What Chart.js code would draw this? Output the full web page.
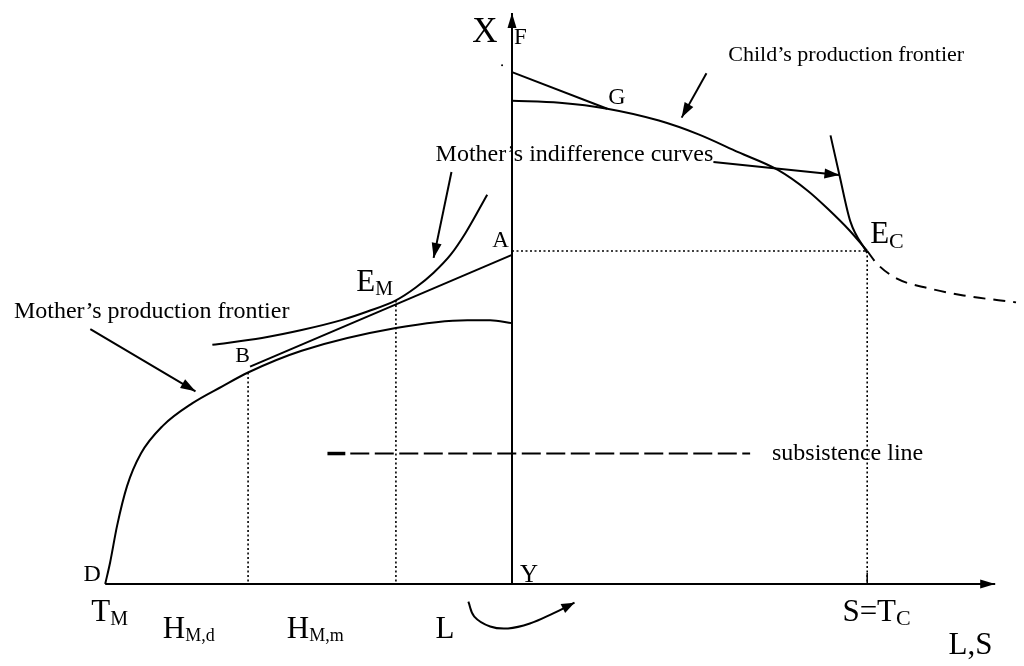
<!DOCTYPE html>
<html>
<head>
<meta charset="utf-8">
<script src="https://cdn.jsdelivr.net/npm/chart.js@4"></script>
<style>
  body { margin: 0; background: #fff; }
  #wrap { width: 1024px; height: 666px; }
</style>
</head>
<body>
<div id="wrap"><canvas id="myChart"></canvas></div>
<script>
// Curves of the diagram, in picture units (x right, y down)

const yAxis = [ {x: 512, y: 587}, {x: 512, y: 9} ];
const xAxis = [ {x: 102, y: 587}, {x: 999, y: 587} ];

const motherFrontier = [
    {x: 102, y: 587}, {x: 107, y: 565}, {x: 114, y: 528}, {x: 124, y: 488},
    {x: 138, y: 455}, {x: 160, y: 427}, {x: 190, y: 404}, {x: 220, y: 387},
    {x: 246, y: 373}, {x: 300, y: 351}, {x: 395, y: 328}, {x: 467, y: 320},
    {x: 490, y: 320}, {x: 512, y: 323},
];

const motherIndiff = [
    {x: 210, y: 345}, {x: 260, y: 338}, {x: 300, y: 330}, {x: 340, y: 320},
    {x: 367, y: 311}, {x: 395, y: 300}, {x: 415, y: 287}, {x: 433, y: 272},
    {x: 450, y: 254}, {x: 465, y: 232}, {x: 487, y: 193},
];

const budgetLine = [ {x: 248, y: 367}, {x: 512, y: 254} ];

const childFrontier = [
    {x: 512, y: 98}, {x: 560, y: 100}, {x: 608, y: 106}, {x: 660, y: 118},
    {x: 700, y: 132}, {x: 740, y: 150}, {x: 780, y: 168}, {x: 810, y: 189},
    {x: 830, y: 207}, {x: 852, y: 229}, {x: 870, y: 250},
];
const childFrontierDashed = [
    {x: 870, y: 250}, {x: 880, y: 263}, {x: 900, y: 278}, {x: 933, y: 288},
    {x: 967, y: 295}, {x: 1020, y: 302},
];
const childIndiff = [ {x: 833, y: 133}, {x: 842, y: 173}, {x: 853, y: 220}, {x: 870, y: 252} ];
const fLine = [ {x: 512, y: 69}, {x: 608, y: 106} ];

const dotA = [ {x: 512, y: 250}, {x: 870, y: 250} ];
const dotEc = [ {x: 870, y: 250}, {x: 870, y: 587} ];
const dotEm = [ {x: 395, y: 300}, {x: 395, y: 587} ];
const dotB = [ {x: 246, y: 373}, {x: 246, y: 587} ];
const tickS = [ {x: 870, y: 576}, {x: 870, y: 587} ];

const subsistStub = [ {x: 326, y: 455}, {x: 344, y: 455} ];
const subsistence = [ {x: 349, y: 455}, {x: 752, y: 455} ];
const strayDot = [ {x: 502, y: 62} ];

const arrowMotherPF = [ {x: 87, y: 329}, {x: 193, y: 392} ];
const arrowMotherIC1 = [ {x: 451, y: 170}, {x: 433, y: 257} ];
const arrowMotherIC2 = [ {x: 715, y: 160}, {x: 842, y: 173} ];
const arrowChildPF = [ {x: 708, y: 70}, {x: 683, y: 115} ];
const arrowL = [ {x: 468, y: 605}, {x: 474, y: 620}, {x: 490, y: 630}, {x: 508, y: 632},
                 {x: 530, y: 627}, {x: 553, y: 617}, {x: 575, y: 606} ];

// text: label, subscript, left x, middle y
const labels = [
    ['X', '', 472, 29], ['F', '', 514, 34], ['G', '', 609, 95],
    ['Child\u2019s production frontier', '', 730, 52],
    ['Mother\u2019s indifference curves', '', 435, 153],
    ['A', '', 492, 240], ['E', 'C', 873, 234], ['E', 'M', 355, 282],
    ['Mother\u2019s production frontier', '', 10, 311], ['B', '', 233, 357],
    ['subsistence line', '', 774, 455], ['D', '', 80, 578], ['Y', '', 520, 578],
    ['T', 'M', 88, 616], ['H', 'M,d', 160, 633], ['H', 'M,m', 285, 633],
    ['L', '', 435, 633], ['S=T', 'C', 845, 616], ['L,S', '', 952, 650],
];
const labelSize = {X: 35, F: 23, G: 24, A: 23, B: 22, D: 24, Y: 25, E: 31, T: 31, H: 31, L: 31,
                   'S=T': 31, 'L,S': 31, 'Child\u2019s production frontier': 22};
const subSize = {C: 22, M: 20, 'M,d': 18, 'M,m': 18};

function line(data, extra) {
    return Object.assign({
        data: data, showLine: true, borderColor: '#000', borderWidth: 2,
        pointRadius: 0, tension: 0, fill: false,
    }, extra || {});
}

const smooth = {cubicInterpolationMode: 'monotone'};
const dotted = {borderWidth: 1.6, borderDash: [2, 2.5]};

const arrowPlugin = {
    id: 'arrows',
    afterDatasetsDraw(chart) {
        const ctx = chart.ctx;
        const sx = chart.scales.x, sy = chart.scales.y;
        chart.data.datasets.forEach(ds => {
            if (!ds.arrow) return;
            const n = ds.data.length;
            const p1 = ds.data[n - 2], p2 = ds.data[n - 1];
            const x1 = sx.getPixelForValue(p1.x), y1 = sy.getPixelForValue(p1.y);
            const x2 = sx.getPixelForValue(p2.x), y2 = sy.getPixelForValue(p2.y);
            const a = Math.atan2(y2 - y1, x2 - x1);
            const len = ds.arrow[0], w = ds.arrow[1];
            ctx.save();
            ctx.fillStyle = '#000';
            ctx.beginPath();
            ctx.moveTo(x2, y2);
            ctx.lineTo(x2 - len * Math.cos(a) + w * Math.sin(a), y2 - len * Math.sin(a) - w * Math.cos(a));
            ctx.lineTo(x2 - len * Math.cos(a) - w * Math.sin(a), y2 - len * Math.sin(a) + w * Math.cos(a));
            ctx.closePath();
            ctx.fill();
            ctx.restore();
        });
    }
};

const labelPlugin = {
    id: 'labels',
    afterDraw(chart) {
        const ctx = chart.ctx;
        const sx = chart.scales.x, sy = chart.scales.y;
        ctx.save();
        ctx.fillStyle = '#000';
        ctx.textBaseline = 'middle';
        ctx.textAlign = 'left';
        labels.forEach(([txt, sub, x, y]) => {
            const size = labelSize[txt] || 24;
            const px = sx.getPixelForValue(x), py = sy.getPixelForValue(y);
            ctx.font = size + 'px "Liberation Serif"';
            ctx.fillText(txt, px, py);
            if (sub) {
                const w = ctx.measureText(txt).width;
                ctx.font = subSize[sub] + 'px "Liberation Serif"';
                ctx.fillText(sub, px + w, py + size * 0.22);
            }
        });
        ctx.restore();
    }
};

const config = {
    type: 'scatter',
    data: {
        datasets: [
            line(yAxis, {arrow: [15, 4.5]}),
            line(xAxis, {arrow: [15, 4.5]}),
            line(motherFrontier, smooth),
            line(motherIndiff, smooth),
            line(budgetLine),
            line(childFrontier, smooth),
            line(childFrontierDashed, Object.assign({borderDash: [12, 8]}, smooth)),
            line(childIndiff, smooth),
            line(fLine),
            line(dotA, dotted),
            line(dotEc, dotted),
            line(dotEm, dotted),
            line(dotB, dotted),
            line(tickS, {borderWidth: 1.5}),
            line(subsistStub, {borderWidth: 3.5}),
            line(subsistence, {borderDash: [19, 5.5]}),
            {data: strayDot, pointRadius: 1, backgroundColor: '#000', borderWidth: 0},
            line(arrowMotherPF, {arrow: [15, 5]}),
            line(arrowMotherIC1, {arrow: [15, 5]}),
            line(arrowMotherIC2, {arrow: [15, 5]}),
            line(arrowChildPF, {arrow: [15, 5]}),
            line(arrowL, {tension: 0.4, arrow: [13, 5]}),
        ]
    },
    options: {
        responsive: true,
        maintainAspectRatio: false,
        animation: false,
        layout: { padding: 0 },
        plugins: {
            legend: { display: false },
            tooltip: { enabled: false },
        },
        scales: {
            x: { type: 'linear', min: 0, max: 1024, display: false },
            y: { type: 'linear', min: 0, max: 666, reverse: true, display: false },
        }
    },
    plugins: [arrowPlugin, labelPlugin]
};

const ctx = document.querySelector('#myChart');
let myChart = new Chart(ctx, config);
</script>
</body>
</html>
